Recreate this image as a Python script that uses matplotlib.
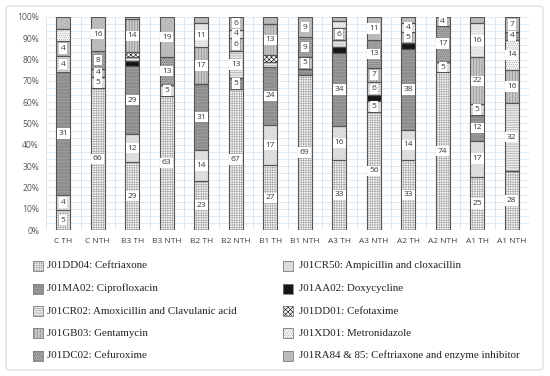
import numpy as np
import matplotlib
matplotlib.use("Agg")
import matplotlib.pyplot as plt
from matplotlib.patches import Rectangle, FancyBboxPatch

plt.rcParams['hatch.linewidth'] = 0.45

categories = ["C TH", "C NTH", "B3 TH", "B3 NTH", "B2 TH", "B2 NTH", "B1 TH",
              "B1 NTH", "A3 TH", "A3 NTH", "A2 TH", "A2 NTH", "A1 TH", "A1 NTH"]

# counts per category (stacked bottom -> top)
J01DD04 = [5, 66, 29, 63, 23, 67, 27, 69, 33, 56, 33, 74, 25, 28]
J01CR50 = [4, 5, 12, 5, 14, 0, 17, 0, 16, 5, 14, 5, 17, 0]
J01MA02 = [31, 0, 29, 0, 31, 5, 24, 3, 34, 0, 38, 0, 12, 0]
J01AA02 = [0, 0, 2, 0, 0, 0, 0, 0, 3, 3, 3, 0, 0, 0]
J01CR02 = [4, 0, 2, 0, 0, 13, 2, 0, 3, 6, 0, 0, 5, 32]
J01DD01 = [0, 0, 2, 0, 0, 0, 3, 0, 0, 0, 0, 0, 0, 0]
J01GB03 = [4, 4, 14, 0, 17, 6, 13, 5, 6, 7, 5, 0, 22, 16]
J01XD01 = [3, 0, 1, 0, 11, 4, 0, 0, 3, 0, 4, 0, 16, 14]
J01DC02 = [0, 8, 0, 13, 0, 0, 0, 9, 0, 13, 0, 17, 0, 4]
J01RA84 = [3, 16, 0, 19, 3, 6, 3, 9, 2, 11, 3, 4, 3, 7]

series_names = ["J01DD04: Ceftriaxone", "J01CR50: Ampicillin and cloxacillin",
                "J01MA02: Ciprofloxacin", "J01AA02: Doxycycline",
                "J01CR02: Amoxicillin and Clavulanic acid", "J01DD01: Cefotaxime",
                "J01GB03: Gentamycin", "J01XD01: Metronidazole",
                "J01DC02: Cefuroxime", "J01RA84 & 85: Ceftriaxone and enzyme inhibitor"]
series_vals = [J01DD04, J01CR50, J01MA02, J01AA02, J01CR02, J01DD01,
               J01GB03, J01XD01, J01DC02, J01RA84]

# style: (facecolor, hatch, hatchcolor)
styles = [
    ("#f7f7f7", "+++++++", "#a8a8a8"),
    ("#dddddd", None, "#dddddd"),
    ("#8e8e8e", "-----", "#a4a4a4"),
    ("#161616", None, "#161616"),
    ("#eaeaea", "-------", "#a0a0a0"),
    ("#ffffff", "xxxxxxx", "#111111"),
    ("#c8c8c8", "||||||", "#868686"),
    ("#f4f4f4", "........", "#b0b0b0"),
    ("#a8a8a8", "........", "#6e6e6e"),
    ("#bbbbbb", None, "#bbbbbb"),
]

W, H = 550, 376
fig = plt.figure(figsize=(W / 100, H / 100), dpi=100)
ax = fig.add_axes([46 / W, 1 - 230 / H, (529 - 46) / W, (230 - 17) / H])

data = np.array(series_vals, dtype=float)
totals = data.sum(axis=0)
pct = data / totals * 100
x = np.arange(len(categories))
bw = 0.41

bottom = np.zeros(len(categories))
for i, (vals, st) in enumerate(zip(series_vals, styles)):
    fc, hatch, hc = st
    ax.bar(x, pct[i], bw, bottom=bottom, color=fc, hatch=hatch, edgecolor=hc,
           linewidth=0, zorder=3)
    ax.bar(x, pct[i], bw, bottom=bottom, fill=False, edgecolor="#555555",
           linewidth=0.8, zorder=4)
    for j, v in enumerate(vals):
        if v >= 4:
            ax.text(x[j], bottom[j] + pct[i][j] / 2, str(v), ha="center", va="center",
                    fontsize=6.0, color="#3a3a3a", family="Open Sans", zorder=6,
                    bbox=dict(boxstyle="square,pad=0.2", fc="white", ec="none"))
    bottom += pct[i]

ax.set_xlim(-0.5, len(categories) - 0.5)
ax.set_ylim(0, 100)
ax.set_yticks(np.arange(0, 101, 10))
ax.set_yticklabels([f"{v}%" for v in range(0, 101, 10)], fontsize=6.2,
                   color="#595959", family="Open Sans")
ax.set_xticks(x)
ax.set_xticklabels(categories, fontsize=6.0, color="#404040", family="Open Sans")
ax.tick_params(axis="both", length=0)
ax.tick_params(axis="x", pad=6)
ax.tick_params(axis="y", pad=5)
for s in ax.spines.values():
    s.set_visible(False)

# grid
for yv in np.arange(0, 100.1, 10 / 3):
    ax.axhline(yv, color="#d5e3ee", lw=0.5, zorder=1)
for xv in np.arange(-0.5, len(categories), 1):
    ax.axvline(xv, color="#d5e3ee", lw=0.6, zorder=1)

# outer border
border = FancyBboxPatch((6 / W, 1 - 370 / H), (543 - 6) / W, (370 - 6) / H,
                        boxstyle="round,pad=0,rounding_size=0.008",
                        transform=fig.transFigure, fc="none", ec="#d9d9d9", lw=0.8)
fig.patches.append(border)

# legend (manual)
col_patch_x = [33, 283]
col_text_x = [47, 299]
row_y = [266, 288.5, 311, 333, 355.5]
order = [[0, 2, 4, 6, 8], [1, 3, 5, 7, 9]]
ps = 10
for c in range(2):
    for r, si in enumerate(order[c]):
        fc, hatch, hc = styles[si]
        y = row_y[r]
        rect = Rectangle((col_patch_x[c] / W, 1 - (y + ps / 2) / H), ps / W, ps / H,
                         transform=fig.transFigure, facecolor=fc, hatch=hatch,
                         edgecolor=hc, lw=0)
        fig.patches.append(rect)
        rect2 = Rectangle((col_patch_x[c] / W, 1 - (y + ps / 2) / H), ps / W, ps / H,
                          transform=fig.transFigure, fill=False,
                          edgecolor="#7a7a7a", lw=0.6)
        fig.patches.append(rect2)
        fig.text(col_text_x[c] / W, 1 - y / H, series_names[si], ha="left",
                 va="center", fontsize=7.9, family="Liberation Serif", color="#222222")

fig.savefig("out.png", dpi=100)
